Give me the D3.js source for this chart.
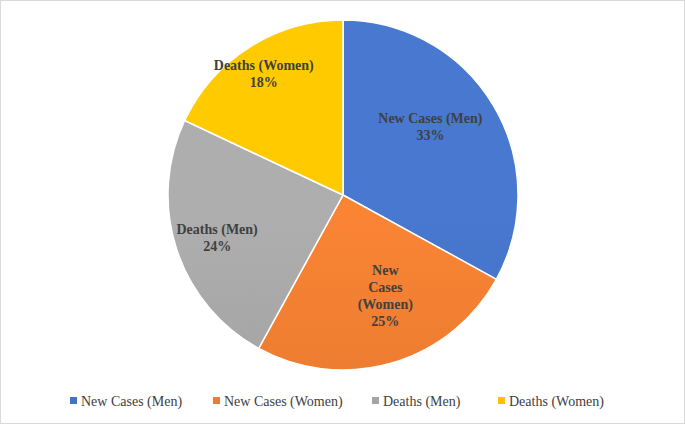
<!DOCTYPE html>
<html><head><meta charset="utf-8">
<script src="https://cdn.jsdelivr.net/npm/d3@7"></script>
<style>body{margin:0;background:#fff}</style>
</head><body><div id="container"></div>
<script>
const categories = ["New Cases (Men)", "New Cases (Women)", "Deaths (Men)", "Deaths (Women)"];
const values = [33, 25, 24, 18];
const colors = ["#4472C4", "#ED7D31", "#A5A5A5", "#FFC000"];
const labelLines = [["New Cases (Men)", "33%"], ["New", "Cases", "(Women)", "25%"], ["Deaths (Men)", "24%"], ["Deaths (Women)", "18%"]];

let w = 685, h = 424;
let svg = d3.select("#container").append("svg").attr("width", w).attr("height", h);
svg.append("rect").attr("x", 0.5).attr("y", 0.5).attr("width", w - 1).attr("height", h - 1)
  .attr("fill", "#fff").attr("stroke", "#d9d9d9");

let cx = 343, cy = 195, r = 175;
let defs = svg.append("defs");
colors.forEach((c, i) => {
  let g = defs.append("linearGradient").attr("id", "g" + i)
    .attr("gradientUnits", "userSpaceOnUse")
    .attr("x1", 0).attr("y1", cy - r).attr("x2", 0).attr("y2", cy + r);
  g.append("stop").attr("offset", 0).attr("stop-color", d3.color(c).brighter(0.15));
  g.append("stop").attr("offset", 1).attr("stop-color", d3.color(c).darker(0.2));
});

let pie = d3.pie().sort(null).value(d => d)(values);
let arc = d3.arc().innerRadius(0).outerRadius(r);
let lab = d3.arc().innerRadius(r * 0.6).outerRadius(r * 0.6);
let g = svg.append("g").attr("transform", `translate(${cx},${cy})`);
g.selectAll("path").data(pie).join("path")
  .attr("d", arc).attr("fill", (d, i) => `url(#g${i})`)
  .attr("stroke", "#fff").attr("stroke-width", 1.5);

const offsets = [[-3, -15], [13, 0], [-26, 10], [-23, -33]];
g.selectAll("text.lab").data(pie).join("text").attr("class", "lab")
  .attr("transform", (d, i) => { let p = lab.centroid(d); return `translate(${p[0] + offsets[i][0]},${p[1] + offsets[i][1]})`; })
  .attr("text-anchor", "middle")
  .attr("font-family", "'Liberation Serif', 'Times New Roman', serif")
  .attr("font-size", 14).attr("font-weight", "bold").attr("fill", "#404040")
  .each(function (d, i) {
    let ls = labelLines[i], t = d3.select(this);
    ls.forEach((s, k) => t.append("tspan").attr("x", 0)
      .attr("dy", k === 0 ? (-(ls.length - 1) * 8.5 + 5) : 17).text(s));
  });

// legend
let lx = [70, 213, 372, 498];
let leg = svg.selectAll("g.leg").data(categories).join("g").attr("class", "leg")
  .attr("transform", (d, i) => `translate(${lx[i]},401)`);
leg.append("rect").attr("x", 0).attr("y", -4).attr("width", 7).attr("height", 7).attr("fill", (d, i) => colors[i]);
leg.append("text").attr("x", 11).attr("y", 5).text(d => d)
  .attr("font-family", "'Liberation Serif', 'Times New Roman', serif")
  .attr("font-size", 14).attr("fill", "#404040");
</script></body></html>
